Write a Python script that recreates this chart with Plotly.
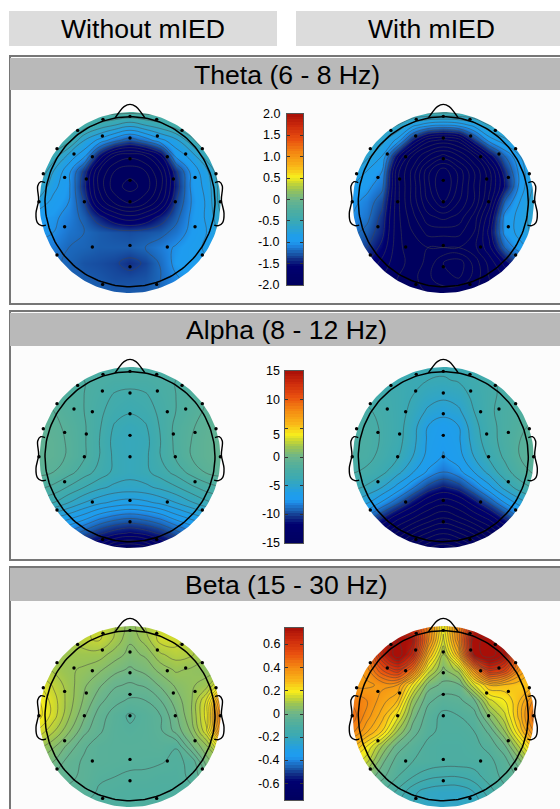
import numpy as np
import plotly.graph_objects as go

# ---------- text ----------
col_titles = ["Without mIED", "With mIED"]
band_titles = ["Theta (6 - 8 Hz)", "Alpha (8 - 12 Hz)", "Beta (15 - 30 Hz)"]

# ---------- colour bars ----------
theta_lim = 2.0
theta_ticks = [2, 1.5, 1, 0.5, 0, -0.5, -1, -1.5, -2]
theta_labels = ["2.0", "1.5", "1.0", "0.5", "0", "-0.5", "-1.0", "-1.5", "-2.0"]
theta_label_at = [2, 1.5, 1, 0.5, 0, -0.5, -1, -1.5, -2]
alpha_lim = 15.0
alpha_ticks = [15, 10, 5, 0, -5, -10, -15]
alpha_labels = ["15", "10", "5", "0", "-5", "-10", "-15"]
alpha_label_at = [15, 10, 3.8, 0, -5, -10, -15]
beta_lim = 0.74
beta_ticks = [0.6, 0.4, 0.2, 0, -0.2, -0.4, -0.6]
beta_labels = ["0.6", "0.4", "0.2", "0", "-0.2", "-0.4", "-0.6"]
beta_label_at = [0.6, 0.4, 0.2, 0, -0.2, -0.4, -0.6]

# ---------- electrodes (head radius = 1) ----------
elec_x = [-.318, 0, .314, -.616, .612, -.325, 0, .322, -.859, .851, -.659, -.443, 0, .439, .655,
          -1.02, 1.012, -.769, -.514, 0, .51, .765, -1.071, 1.063, -.537, 0, .533, -.769, .765,
          -.443, 0, .439, -.859, .851, 0, -.322, .314]
elec_y = [.969, 1.004, .969, .839, .839, .773, .749, .773, .624, .624, .561, .529, .506, .529, .561,
          .329, .329, .286, .267, .251, .267, .286, 0, 0, 0, 0, 0, -.294, -.294,
          -.533, -.514, -.533, -.627, -.627, -.765, -.973, -.973]

# ---------- head outline ----------
nose_x = [-.176, -.13, -.07, 0, .07, .13, .176]
nose_y = [.985, 1.05, 1.118, 1.145, 1.118, 1.05, .985]
ear_x = [1.0, 1.05, 1.086, 1.075, 1.106, 1.09, 1.04, .99]
ear_y = [.224, .235, .184, .02, -.137, -.247, -.282, -.275]

# ---------- values, 13 x 13 samples, top row first ----------
theta_without = [
 [-.18,-.18,-.18,-.18,-.18,-.18,-.18,-.18,-.18,-.18,-.18,-.18,-.18],
 [-.3,-.3,-.3,-.35,-.5,-.6,-.7,-.6,-.5,-.35,-.3,-.3,-.3],
 [-.3,-.3,-.4,-.75,-.95,-1.15,-1.3,-1.15,-.95,-.8,-.5,-.3,-.3],
 [-.4,-.5,-.8,-1.0,-1.55,-1.95,-2.05,-1.95,-1.65,-1.0,-.85,-.5,-.4],
 [-.4,-.75,-1.0,-1.4,-1.95,-2.25,-2.35,-2.25,-1.95,-1.4,-1.0,-.8,-.4],
 [-.6,-.85,-1.02,-1.45,-2.0,-2.35,-2.45,-2.35,-2.0,-1.45,-1.02,-.85,-.5],
 [-.78,-.95,-1.05,-1.35,-1.85,-2.15,-2.3,-2.15,-1.85,-1.35,-1.05,-.88,-.5],
 [-1.0,-1.02,-1.1,-1.25,-1.45,-1.65,-1.75,-1.65,-1.45,-1.25,-1.02,-.88,-.6],
 [-1.0,-1.05,-1.15,-1.2,-1.25,-1.28,-1.3,-1.28,-1.25,-1.15,-1.0,-.9,-.7],
 [-1.1,-1.12,-1.2,-1.22,-1.25,-1.25,-1.25,-1.2,-1.12,-1.03,-.95,-.88,-.8],
 [-1.15,-1.18,-1.22,-1.28,-1.3,-1.33,-1.4,-1.33,-1.18,-1.0,-.95,-.92,-.9],
 [-1.15,-1.18,-1.22,-1.25,-1.27,-1.3,-1.3,-1.28,-1.2,-1.07,-.98,-.94,-.9],
 [-1.15,-1.15,-1.18,-1.2,-1.22,-1.25,-1.25,-1.25,-1.18,-1.05,-.98,-.94,-.9],
]
theta_with = [
 [-.3,-.3,-.3,-.3,-.3,-.3,-.3,-.3,-.3,-.3,-.3,-.3,-.3],
 [-.4,-.45,-.5,-.6,-.85,-1.0,-1.05,-1.0,-.85,-.6,-.5,-.45,-.4],
 [-.4,-.5,-.7,-.95,-1.5,-1.9,-2.0,-1.9,-1.4,-1.0,-.8,-.6,-.4],
 [-.55,-.7,-.9,-1.6,-2.1,-2.4,-2.6,-2.4,-2.1,-1.6,-1.2,-.9,-.6],
 [-.7,-.9,-1.05,-1.9,-2.3,-2.8,-3.1,-2.8,-2.4,-2.0,-1.4,-1.0,-.7],
 [-.9,-1.0,-1.15,-1.9,-2.3,-2.8,-3.2,-2.8,-2.4,-2.0,-1.5,-1.0,-.7],
 [-1.0,-1.1,-1.3,-1.9,-2.3,-2.7,-3.0,-2.7,-2.4,-1.9,-1.2,-.9,-.65],
 [-1.05,-1.15,-1.4,-1.9,-2.2,-2.5,-2.6,-2.5,-2.2,-1.7,-1.0,-.85,-.65],
 [-1.15,-1.25,-1.45,-1.9,-2.1,-2.3,-2.3,-2.3,-2.1,-1.6,-1.0,-.85,-.7],
 [-1.25,-1.35,-1.55,-1.9,-2.05,-2.1,-2.1,-2.1,-2.0,-1.7,-1.2,-.95,-.85],
 [-1.4,-1.5,-1.7,-1.9,-2.0,-2.15,-2.4,-2.5,-2.2,-1.9,-1.6,-1.3,-1.1],
 [-1.5,-1.6,-1.8,-1.95,-2.05,-2.2,-2.4,-2.4,-2.2,-1.95,-1.8,-1.6,-1.4],
 [-1.6,-1.7,-1.85,-2.0,-2.05,-2.1,-2.1,-2.1,-2.1,-2.0,-1.9,-1.8,-1.6],
]
alpha_without = [
 [-2.2,-2.2,-2.2,-2.2,-2.2,-2.2,-2.2,-2.2,-2.2,-2.2,-2.2,-2.2,-2.2],
 [-1.5,-1.6,-1.8,-2.0,-2.2,-2.4,-2.4,-2.4,-2.2,-2.0,-1.8,-1.6,-1.5],
 [-1.2,-1.4,-1.7,-2.0,-2.4,-2.9,-3.1,-2.9,-2.4,-2.0,-1.6,-1.3,-1.2],
 [-1.0,-1.2,-1.6,-2.0,-2.6,-3.2,-3.5,-3.2,-2.6,-2.0,-1.5,-1.1,-1.0],
 [-.8,-1.0,-1.4,-1.9,-2.7,-3.7,-4.0,-3.7,-2.7,-1.8,-1.3,-.9,-.7],
 [-.7,-.9,-1.3,-1.9,-2.8,-3.9,-4.1,-3.9,-2.8,-1.8,-1.2,-.8,-.5],
 [-.7,-.9,-1.3,-1.9,-2.8,-3.8,-4.1,-3.8,-2.8,-1.9,-1.2,-.8,-.5],
 [-1.0,-1.2,-1.7,-2.4,-3.1,-3.8,-4.1,-3.8,-3.2,-2.5,-1.7,-1.1,-.9],
 [-1.8,-2.2,-2.9,-3.6,-4.2,-4.6,-4.7,-4.6,-4.2,-3.7,-3.0,-2.4,-2.0],
 [-3.2,-3.6,-4.4,-5.2,-5.8,-6.2,-6.4,-6.2,-5.8,-5.2,-4.5,-3.8,-3.4],
 [-5.5,-6.0,-6.6,-7.3,-8.2,-8.8,-9.1,-8.8,-8.2,-7.3,-6.6,-6.0,-5.5],
 [-7.5,-8.0,-8.7,-9.6,-10.6,-11.3,-11.7,-11.3,-10.6,-9.6,-8.7,-8.0,-7.5],
 [-10,-10.5,-11,-12,-13,-14.5,-15,-14.5,-13,-12,-11,-10.5,-10],
]
alpha_with = [
 [-3.5,-3.5,-3.5,-3.5,-3.5,-3.5,-3.5,-3.5,-3.5,-3.5,-3.5,-3.5,-3.5],
 [-3.0,-3.0,-3.2,-3.4,-3.6,-3.8,-3.9,-3.7,-3.2,-2.8,-2.5,-2.3,-2.2],
 [-2.6,-2.8,-3.0,-3.3,-3.8,-4.4,-4.7,-4.4,-3.5,-2.8,-2.4,-2.1,-2.0],
 [-2.3,-2.5,-2.8,-3.3,-4.1,-5.2,-5.7,-5.2,-3.8,-2.8,-2.2,-1.8,-1.6],
 [-2.1,-2.3,-2.7,-3.3,-4.5,-6.2,-6.9,-6.2,-4.2,-3.0,-2.2,-1.6,-1.2],
 [-2.0,-2.2,-2.7,-3.4,-4.6,-6.4,-7.2,-6.4,-4.5,-3.1,-2.2,-1.4,-1.0],
 [-2.1,-2.3,-2.9,-3.7,-5.0,-6.6,-7.5,-6.7,-5.0,-3.6,-2.4,-1.4,-.9],
 [-2.5,-2.8,-3.5,-4.6,-6.1,-7.6,-8.6,-7.8,-6.2,-4.6,-3.1,-1.9,-1.2],
 [-3.4,-4.0,-5.0,-6.6,-8.4,-10.2,-11.2,-10.4,-8.6,-6.6,-4.6,-3.2,-2.4],
 [-5.0,-6.0,-7.6,-9.4,-11.4,-13.2,-14.2,-13.4,-11.6,-9.6,-7.4,-5.6,-4.4],
 [-8.0,-9.0,-11,-13,-14.5,-16,-17,-16,-14.5,-13,-10.8,-8.8,-7.5],
 [-12,-13,-14,-16,-18,-19.5,-20.5,-19.5,-18,-16,-14,-13,-12],
 [-15,-16,-17.5,-19,-21,-23,-24,-23,-21,-19,-17.5,-16,-15],
]
beta_without = [
 [.08,.09,.1,.13,.14,.11,.06,.11,.14,.13,.1,.08,.08],
 [.06,.08,.1,.13,.14,.1,.05,.09,.15,.15,.11,.07,.06],
 [.08,.09,.09,.09,.09,.06,.035,.05,.1,.12,.11,.08,.07],
 [.12,.1,.08,.07,.05,.025,.01,.025,.055,.08,.07,.06,.08],
 [.17,.13,.09,.05,.02,-.01,-.02,-.01,.02,.05,.07,.09,.2],
 [.2,.15,.09,.04,-.005,-.035,-.05,-.045,-.015,.03,.07,.17,.38],
 [.21,.15,.08,.02,-.03,-.06,-.08,-.065,-.045,.01,.07,.18,.46],
 [.16,.11,.05,-.005,-.04,-.065,-.07,-.065,-.05,-.005,.05,.16,.4],
 [.09,.05,.005,-.04,-.06,-.065,-.065,-.065,-.06,-.074,.01,.07,.2],
 [.04,.015,-.03,-.05,-.06,-.065,-.068,-.07,-.073,-.08,-.07,.03,.08],
 [0,-.02,-.04,-.05,-.07,-.075,-.08,-.08,-.085,-.085,-.07,-.02,.02],
 [-.03,-.04,-.05,-.06,-.08,-.085,-.09,-.09,-.09,-.09,-.08,-.06,-.04],
 [-.06,-.06,-.07,-.08,-.085,-.09,-.09,-.09,-.09,-.09,-.08,-.07,-.06],
]
beta_with = [
 [.4,.45,.52,.58,.58,.42,.18,.42,.64,.64,.52,.4,.35],
 [.4,.47,.66,.76,.72,.42,.15,.42,.78,.82,.72,.47,.35],
 [.35,.42,.66,.8,.66,.3,.08,.32,.76,.84,.74,.42,.3],
 [.33,.38,.52,.6,.44,.15,.03,.1,.38,.62,.56,.36,.25],
 [.35,.35,.37,.36,.18,.02,-.01,-.01,.15,.28,.27,.25,.28],
 [.43,.4,.34,.28,.07,-.03,-.06,-.05,-.01,.15,.2,.28,.42],
 [.47,.38,.3,.18,.02,-.06,-.09,-.08,-.06,.05,.15,.3,.48],
 [.42,.33,.24,.08,-.02,-.07,-.09,-.09,-.08,-.03,.08,.25,.42],
 [.3,.2,.08,-.02,-.06,-.09,-.1,-.1,-.09,-.07,-.01,.13,.28],
 [.2,.13,.01,-.06,-.08,-.09,-.1,-.1,-.1,-.09,-.06,.03,.16],
 [.08,.03,-.03,-.08,-.12,-.15,-.16,-.16,-.14,-.1,-.07,-.03,.06],
 [-.02,-.04,-.08,-.13,-.19,-.22,-.23,-.23,-.2,-.14,-.09,-.05,-.02],
 [-.08,-.1,-.13,-.17,-.2,-.23,-.23,-.23,-.22,-.18,-.14,-.1,-.08],
]

# ---------- style ----------
W, H = 560, 809
BG = "#fcfcfc"
cmap = [[0, "#00005f"], [.11, "#000070"], [.15, "#122f86"], [.19, "#1a5fb0"], [.225, "#1e80dc"],
        [.25, "#1e9cf0"], [.285, "#1f9eea"], [.375, "#3aa9b4"], [.44, "#4fae9f"], [.5, "#6cb58c"],
        [.56, "#9dc552"], [.6, "#cfd92f"], [.63, "#f7ee1c"], [.69, "#f9b818"], [.765, "#f58d12"],
        [.85, "#e9500f"], [.93, "#cc2a0c"], [1, "#a80f08"]]
PX = 85.0                     # pixels per head radius
left_x, right_x = 130.0, 443.3
centers_y = [201.7, 456.7, 715.7]
bar_boxes = [(287, 303, 114, 285), (285, 303, 371, 543), (285, 303, 628, 800)]
panels = [
    (theta_without, theta_with, theta_lim, theta_ticks, theta_labels, theta_label_at, (-3.0, 0.15), (-3.0, 0.15)),
    (alpha_without, alpha_with, alpha_lim, alpha_ticks, alpha_labels, alpha_label_at, (-24.4, 0.8), (-24.2, 1.2)),
    (beta_without, beta_with, beta_lim, beta_ticks, beta_labels, beta_label_at, (-.285, 0.03), (-.28, 0.04)),
]
grid = np.arange(13) * 0.18 - 1.08
fig = go.Figure()
layout = dict(width=W, height=H, margin=dict(l=0, r=0, t=0, b=0), paper_bgcolor="white",
              plot_bgcolor="rgba(0,0,0,0)", showlegend=False, font=dict(family="Liberation Sans", color="black"))
shapes, annos = [], []


def px_rect(x0, x1, y0, y1, fill=None, line=None, lw=0, layer="below"):
    shapes.append(dict(type="rect", xref="paper", yref="paper", x0=x0 / W, x1=x1 / W,
                       y0=1 - y1 / H, y1=1 - y0 / H, fillcolor=fill or "rgba(0,0,0,0)",
                       line=dict(color=line or "rgba(0,0,0,0)", width=lw), layer=layer))


def text(s, x, y, size, anchor="center"):
    annos.append(dict(text=s, xref="paper", yref="paper", x=x / W, y=1 - y / H, showarrow=False,
                      font=dict(size=size, family="Liberation Sans", color="black"),
                      xanchor=anchor, yanchor="middle"))


# header boxes
px_rect(9, 277, 11, 46, fill="#dcdcdc")
px_rect(296, 561, 11, 46, fill="#dcdcdc")
text(col_titles[0], 143, 29, 26.6)
text(col_titles[1], 431, 29, 26.6)

# panel frames
frames = [(56, 304, 58, 90), (311, 560, 313, 346), (567, 815, 568, 601)]
for i, (t, b, h0, h1) in enumerate(frames):
    px_rect(10, 565, t, b, fill=BG, line="#767676", lw=2)
    px_rect(10, 565, h0, h1, fill="#b9b9b9")
    px_rect(10, 565, t - 1, t + 1, fill="#767676")
    text(band_titles[i], 286.5, (h0 + h1) / 2 + 0.5, 26.6)

theta = np.linspace(0, 2 * np.pi, 181)
ax = 0


def next_axes(dom_x, dom_y, xr, yr):
    global ax
    ax += 1
    sx = "" if ax == 1 else str(ax)
    layout["xaxis" + sx] = dict(domain=dom_x, range=xr, visible=False, fixedrange=True)
    layout["yaxis" + sx] = dict(domain=dom_y, range=yr, visible=False, fixedrange=True)
    return "x" + sx, "y" + sx


for (z_l, z_r, lim, ticks, labels, label_at, lev_l, lev_r), cy, box in zip(panels, centers_y, bar_boxes):
    for z, cx, lev in ((z_l, left_x, lev_l), (z_r, right_x, lev_r)):
        zz = np.array(z)[::-1]
        # axes sit on whole pixels so that no map colour bleeds along their clip edge
        p_left, p_right = round(cx - 100), round(cx + 100)
        p_top, p_bottom = round(cy - 100), round(cy + 93)
        xa, ya = next_axes([p_left / W, p_right / W], [1 - p_bottom / H, 1 - p_top / H],
                           [(p_left - cx) / PX, (p_right - cx) / PX], [(cy - p_bottom) / PX, (cy - p_top) / PX])
        fig.add_trace(go.Heatmap(x=grid, y=grid, z=zz, colorscale=cmap, zmin=-lim, zmax=lim,
                                 zsmooth="best", showscale=False, hoverinfo="skip", xaxis=xa, yaxis=ya))
        fig.add_trace(go.Contour(x=grid, y=grid, z=zz, showscale=False, hoverinfo="skip", xaxis=xa, yaxis=ya,
                                 contours=dict(coloring="none", start=lev[0], end=lim * 2, size=lev[1]),
                                 line=dict(color="rgba(70,70,70,0.7)", width=0.7, smoothing=1.2)))
        # surround in the panel colour with a circular opening, so the map ends on a disc
        rr = 90.5 / PX
        mx = [-2, -2, 2, 2, -2, -2, -rr] + list(-rr * np.cos(theta)) + [-2]
        my = [0, 2, 2, -2, -2, 0, 0] + list(-rr * np.sin(theta)) + [0]
        my = [m - 0.01 if abs(m) < 1.5 else m for m in my]
        fig.add_trace(go.Scatter(x=mx, y=my, mode="lines", fill="toself", fillcolor=BG,
                                 line=dict(width=0, color=BG), hoverinfo="skip", xaxis=xa, yaxis=ya))
        head = dict(color="black", width=1.5)
        fig.add_trace(go.Scatter(x=np.cos(theta), y=np.sin(theta), mode="lines", line=head,
                                 hoverinfo="skip", xaxis=xa, yaxis=ya))
        spl = dict(color="black", width=1.4, shape="spline")
        fig.add_trace(go.Scatter(x=nose_x, y=nose_y, mode="lines", line=spl, hoverinfo="skip", xaxis=xa, yaxis=ya))
        fig.add_trace(go.Scatter(x=ear_x, y=ear_y, mode="lines", line=spl, hoverinfo="skip", xaxis=xa, yaxis=ya))
        fig.add_trace(go.Scatter(x=[-v for v in ear_x], y=ear_y, mode="lines", line=spl, hoverinfo="skip", xaxis=xa, yaxis=ya))
        fig.add_trace(go.Scatter(x=elec_x, y=elec_y, mode="markers", marker=dict(size=3.4, color="black"),
                                 hoverinfo="skip", xaxis=xa, yaxis=ya))
    # colour bar
    x0, x1, y0, y1 = box
    ax += 1
    sx = str(ax)
    layout["xaxis" + sx] = dict(domain=[x0 / W, x1 / W], range=[0, 1], showticklabels=False, ticks="",
                                showline=True, linecolor="#555555", linewidth=1, mirror=True,
                                showgrid=False, zeroline=False, fixedrange=True, anchor="y" + sx)
    layout["yaxis" + sx] = dict(domain=[1 - y1 / H, 1 - y0 / H], range=[-lim, lim], tickvals=ticks,
                                showticklabels=False, ticks="inside", ticklen=3, tickcolor="#333333",
                                tickwidth=1, showline=True, linecolor="#555555", linewidth=1, mirror="ticks",
                                showgrid=False, zeroline=False, fixedrange=True, anchor="x" + sx)
    steps = np.linspace(-lim, lim, 65)
    centres = (steps[:-1] + steps[1:]) / 2
    fig.add_trace(go.Heatmap(x=[0.5], y=centres, z=centres.reshape(-1, 1), colorscale=cmap, zmin=-lim, zmax=lim,
                             showscale=False, hoverinfo="skip", xaxis="x" + sx, yaxis="y" + sx))
    for lab, at in zip(labels, label_at):
        yy = (y0 + y1) / 2 - at / lim * (y1 - y0) / 2
        text(lab, 282, yy, 12.5, anchor="right")

layout["shapes"] = shapes
layout["annotations"] = annos
fig.update_layout(**layout)
fig.write_html("out.html", config=dict(displayModeBar=False),
               post_script="document.body.style.margin='0';document.body.style.overflow='hidden';")
